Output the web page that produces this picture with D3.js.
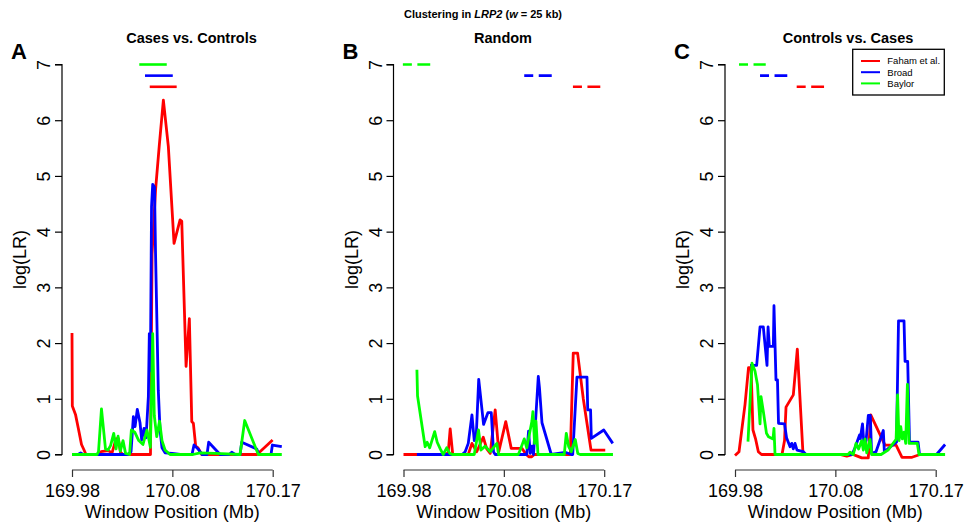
<!DOCTYPE html>
<html><head><meta charset="utf-8">
<script src="https://cdn.jsdelivr.net/npm/d3@7"></script>
<style>
html,body{margin:0;padding:0;background:#fff;}
svg{display:block;font-family:"Liberation Sans",Arial,Helvetica,sans-serif;}
</style></head>
<body>
<svg id="chart" width="966" height="523"></svg>
<script>
// ---------- data ----------
const xTickValues = [169.98, 170.075, 170.17];
const xTickLabels = ["169.98", "170.08", "170.17"];
const yTickValues = [0, 1, 2, 3, 4, 5, 6, 7];
const panelLetters = ["A", "B", "C"];
const panelTitles = ["Cases vs. Controls", "Random", "Controls vs. Cases"];
const seriesNames = ["Faham et al.", "Broad", "Baylor"];
const intervalLevels = [6.6, 6.8, 7.0];

// Panel A: Cases vs. Controls  [position (Mb), log(LR)]
const aFaham = [[169.9800,2.18],[169.9803,0.87],[169.9833,0.72],[169.9862,0.45],[169.9890,0.18],[169.9914,0.08],[169.9933,0],
 [170.0046,0],[170.0075,0.05],[170.0141,0.07],[170.0179,0.03],[170.0217,0.28],[170.0238,0.29],[170.0259,0.04],[170.0283,0],
 [170.0543,0],[170.0558,3.6],[170.0591,4.75],[170.0627,5.56],[170.0665,6.36],[170.0712,5.53],[170.0766,3.79],[170.0823,4.21],
 [170.0839,4.19],[170.0880,1.58],[170.0911,2.44],[170.0934,0.59],[170.0949,0.56],[170.0971,0.15],[170.0993,0.12],[170.1028,0],
 [170.1552,0],[170.1699,0.26]];
const aBroad = [[169.9800,0],[169.9857,0],[169.9882,0.03],[169.9904,0],[170.0330,0],[170.0359,0.05],[170.0381,0.68],[170.0397,0.5],
 [170.0418,0.81],[170.0444,0.57],[170.0460,0.26],[170.0482,0.47],[170.0501,0.3],[170.0523,1.04],[170.0532,2.17],[170.0542,1.5],
 [170.0553,4.45],[170.0564,4.85],[170.0581,4.8],[170.0591,3.6],[170.0617,1.15],[170.0633,0.45],[170.0652,0.12],[170.0681,0.03],
 [170.0747,0.02],[170.0823,0],[170.0936,0],[170.0955,0.17],[170.0993,0.1],[170.1031,0],[170.1078,0],[170.1094,0.22],[170.1202,0],
 [170.1287,0],[170.1312,0.04],[170.1344,0],[170.1391,0],[170.1407,0.22],[170.1549,0.1],[170.1571,0],[170.1684,0],[170.1697,0.17],
 [170.1786,0.14]];
const aBaylor = [[169.9800,0],[170.0037,0],[170.0051,0.05],[170.0079,0.82],[170.0117,0.1],[170.0141,0.08],[170.0165,0.16],
 [170.0195,0.38],[170.0217,0.1],[170.0236,0.33],[170.0257,0.06],[170.0283,0.25],[170.0307,0.02],[170.0345,0],[170.0362,0.44],
 [170.0394,0.4],[170.0432,0.25],[170.0472,0.18],[170.0510,0.44],[170.0542,0.13],[170.0564,2.17],[170.0579,0.7],[170.0602,0.32],
 [170.0629,0.6],[170.0652,0.25],[170.0681,0.08],[170.0728,0],[170.0946,0],[170.1012,0.03],[170.1154,0.02],[170.1391,0],
 [170.1435,0.61],[170.1564,0],[170.1786,0]];
const aIntervals = [[170.0536,170.0791],[170.0491,170.0754],[170.0437,170.0697]];

// Panel B: Random
const bFaham = [[169.9800,0],[170.0195,0],[170.0223,0.03],[170.0242,0.46],[170.0266,0],[170.0413,0],[170.0448,0.2],[170.0493,0.05],
 [170.0555,0.31],[170.0588,0.1],[170.0621,0.02],[170.0668,0.8],[170.0702,0.05],[170.0768,0.59],[170.0820,0.11],[170.0921,0.11],
 [170.0962,0],[170.0986,-0.04],[170.1014,-0.04],[170.1038,0],[170.1379,0],[170.1407,1.82],[170.1448,1.82],[170.1502,1.0],
 [170.1575,0.08],[170.1710,0.08]];
const bBroad = [[169.9927,0],[170.0356,0],[170.0384,0.05],[170.0413,0.2],[170.0448,0.71],[170.0470,0.25],[170.0488,0.3],
 [170.0512,1.35],[170.0558,0.54],[170.0599,0.75],[170.0631,0.75],[170.0652,0.05],[170.0668,0],[170.0967,0],[170.0984,0.42],
 [170.1000,0.02],[170.1016,0.15],[170.1031,0],[170.1076,1.4],[170.1087,1.2],[170.1111,0.57],[170.1199,0],[170.1331,0.04],
 [170.1388,0],[170.1402,0],[170.1442,1.39],[170.1537,1.39],[170.1544,0.8],[170.1571,0.8],[170.1578,0.29],[170.1696,0.44],
 [170.1781,0.2]];
const bBaylor = [[169.9927,1.52],[169.9933,1.05],[170.0005,0.14],[170.0024,0.22],[170.0048,0.12],[170.0095,0.41],[170.0119,0.22],
 [170.0148,0.1],[170.0176,0],[170.0209,0.12],[170.0238,0.02],[170.0261,0],[170.0470,0],[170.0510,0.44],[170.0533,0.08],
 [170.0574,0.15],[170.0621,0.05],[170.0684,0.2],[170.0700,0],[170.0886,0],[170.0905,0.08],[170.0943,0.28],[170.0967,0.12],
 [170.1016,0.6],[170.1025,0.77],[170.1041,0.2],[170.1054,0.6],[170.1073,0],[170.1322,0],[170.1341,0.38],[170.1364,0.14],
 [170.1388,0.05],[170.1426,0.27],[170.1450,0.02],[170.1473,0],[170.1783,0]];
const bIntervals = [[170.1404,170.1663],[170.0943,170.1205],[169.9794,170.0053]];

// Panel C: Controls vs. Cases
const cFaham = [[169.9800,-0.02],[169.9838,0.05],[169.9895,0.9],[169.9928,1.56],[169.9952,1.56],[169.9970,0.44],[169.9996,0.27],
 [170.0021,0.05],[170.0051,0],[170.0245,0],[170.0269,0.25],[170.0283,0.85],[170.0352,1.07],[170.0390,1.89],[170.0444,0],
 [170.0794,0],[170.0858,-0.03],[170.0917,0],[170.0946,-0.02],[170.1000,-0.06],[170.1062,-0.06],[170.1085,0.71],[170.1220,0.17],
 [170.1325,0.17],[170.1381,-0.05],[170.1476,-0.05],[170.1552,0]];
const cBroad = [[169.9942,1.6],[170.0005,1.6],[170.0037,2.29],[170.0068,2.29],[170.0103,1.6],[170.0113,2.29],[170.0125,1.94],
 [170.0163,1.94],[170.0169,2.67],[170.0188,1.34],[170.0202,1.34],[170.0212,0.56],[170.0269,0.55],[170.0288,0.3],[170.0321,0.14],
 [170.0337,0.2],[170.0352,0.1],[170.0368,0.2],[170.0387,0.08],[170.0447,0.05],[170.0472,0],[170.0908,0],[170.0936,0.12],
 [170.0979,0.35],[170.0987,0.28],[170.0991,0.35],[170.1007,0.55],[170.1022,0.15],[170.1041,0.25],[170.1062,0.7],[170.1081,0.7],
 [170.1093,0.02],[170.1135,0.05],[170.1204,0.43],[170.1214,0.05],[170.1258,0.12],[170.1329,0.22],[170.1348,2.4],[170.1400,2.4],
 [170.1410,1.67],[170.1435,1.67],[170.1452,0.22],[170.1533,0.22],[170.1547,0],[170.1708,0],[170.1789,0.18]];
const cBaylor = [[169.9923,0.23],[169.9961,1.64],[169.9989,1.5],[170.0013,1.25],[170.0037,0.55],[170.0046,1.04],[170.0070,0.75],
 [170.0098,0.38],[170.0117,0.32],[170.0160,0.28],[170.0169,0.47],[170.0179,0],[170.0870,0],[170.0889,0.04],[170.0920,0],
 [170.0946,0.2],[170.0970,0.1],[170.1000,0.25],[170.1015,0.08],[170.1031,0.28],[170.1047,0.03],[170.1078,0.27],[170.1094,0],
 [170.1183,0],[170.1249,0.08],[170.1325,0.27],[170.1339,1.07],[170.1353,0.25],[170.1369,0.5],[170.1384,0.28],[170.1400,0.4],
 [170.1416,0.2],[170.1432,1.26],[170.1448,0.2],[170.1526,0.2],[170.1542,0],[170.1789,0]];
const cIntervals = [[170.0384,170.0643],[170.0037,170.0295],[169.9838,170.0091]];

// ---------- layout / style ----------
const colors = ["#ff0000", "#0000ff", "#00ff00"];
const panelOffsets = [0, 331.5, 663];
const titleX = [191.5, 503, 848];
const panels = [
  {series: [aFaham, aBroad, aBaylor], intervals: aIntervals, dashed: false},
  {series: [bFaham, bBroad, bBaylor], intervals: bIntervals, dashed: true},
  {series: [cFaham, cBroad, cBaylor], intervals: cIntervals, dashed: true}
];

const svg = d3.select("#chart");

svg.append("text")
  .attr("x", 483).attr("y", 18).attr("text-anchor", "middle")
  .style("font-size", "11px").style("font-weight", "bold")
  .call(t => {
    t.append("tspan").text("Clustering in ");
    t.append("tspan").style("font-style", "italic").text("LRP2");
    t.append("tspan").text(" (");
    t.append("tspan").style("font-style", "italic").text("w");
    t.append("tspan").text(" = 25 kb)");
  });

const y = d3.scaleLinear().domain([0, 7]).range([454.5, 64.5]);

panels.forEach((p, i) => {
  const off = panelOffsets[i];
  const x = d3.scaleLinear().domain([169.98, 170.17]).range([72 + off, 272.7 + off]);
  const g = svg.append("g");

  // panel letter
  g.append("text").attr("x", 11 + off).attr("y", 59)
    .style("font-size", "22px").style("font-weight", "bold").text(panelLetters[i]);
  // panel title
  g.append("text").attr("x", titleX[i]).attr("y", 43).attr("text-anchor", "middle")
    .style("font-size", "14.5px").style("font-weight", "bold").text(panelTitles[i]);

  // y axis
  const yAxis = d3.axisLeft(y).tickValues(yTickValues).tickSize(7).tickPadding(5).tickFormat(d3.format("d"));
  const ya = g.append("g").attr("transform", `translate(${62 + off},0)`).call(yAxis);
  ya.select(".domain").attr("d", `M-7,${y(7)}H0V${y(0)}H-7`).attr("stroke", "#000").attr("stroke-width", 1.2);
  ya.selectAll(".tick line").attr("stroke", "#000").attr("stroke-width", 1.2);
  ya.selectAll(".tick text")
    .style("font-size", "18px").attr("fill", "#000")
    .attr("x", null).attr("dy", null)
    .attr("text-anchor", "middle")
    .attr("transform", "translate(-12,0) rotate(-90)")
    .attr("y", 0);

  // x axis
  const xAxis = d3.axisBottom(x).tickValues(xTickValues).tickSize(7).tickPadding(6)
    .tickFormat((d, k) => xTickLabels[k]);
  const xa = g.append("g").attr("transform", `translate(0,470)`).call(xAxis);
  xa.select(".domain").attr("d", `M${x(xTickValues[0])},0H${x(xTickValues[2])}`).attr("stroke", "#333").attr("stroke-width", 1.2);
  xa.selectAll(".tick line").attr("stroke", "#333").attr("stroke-width", 1.2);
  xa.selectAll(".tick text").style("font-size", "18px").attr("fill", "#000").attr("dy", null).attr("y", 26.5);

  // axis labels
  g.append("text").attr("transform", `translate(${26 + off},${(y(0) + y(7)) / 2}) rotate(-90)`)
    .attr("text-anchor", "middle").style("font-size", "18px").text("log(LR)");
  g.append("text").attr("x", x(xTickValues[1])).attr("y", 518).attr("text-anchor", "middle")
    .style("font-size", "18px").text("Window Position (Mb)");

  // series lines
  const line = d3.line().x(d => x(d[0])).y(d => y(d[1]));
  p.series.forEach((s, k) => {
    g.append("path").datum(s).attr("d", line)
      .attr("fill", "none").attr("stroke", colors[k]).attr("stroke-width", 2.8)
      .attr("stroke-linejoin", "round").attr("stroke-linecap", "butt");
  });

  // top interval bars
  p.intervals.forEach((iv, k) => {
    const l = g.append("line")
      .attr("x1", x(iv[0])).attr("x2", x(iv[1]))
      .attr("y1", y(intervalLevels[k])).attr("y2", y(intervalLevels[k]))
      .attr("stroke", colors[k]).attr("stroke-width", 2.6);
    if (p.dashed) l.attr("stroke-dasharray", "9 5.5 13 5.5");
  });

  // legend (panel C)
  if (i === 2) {
    const lg = g.append("g");
    lg.append("rect").attr("x", 852.7).attr("y", 49.3).attr("width", 91.6).attr("height", 45.7)
      .attr("fill", "#fff").attr("stroke", "#000").attr("stroke-width", 1.3);
    seriesNames.forEach((n, k) => {
      const yy = 61 + k * 11.2;
      lg.append("line").attr("x1", 861).attr("x2", 880).attr("y1", yy).attr("y2", yy)
        .attr("stroke", colors[k]).attr("stroke-width", 2);
      lg.append("text").attr("x", 887.3).attr("y", yy + 3.4).style("font-size", "9.5px").text(n);
    });
  }
});
</script>
</body></html>
